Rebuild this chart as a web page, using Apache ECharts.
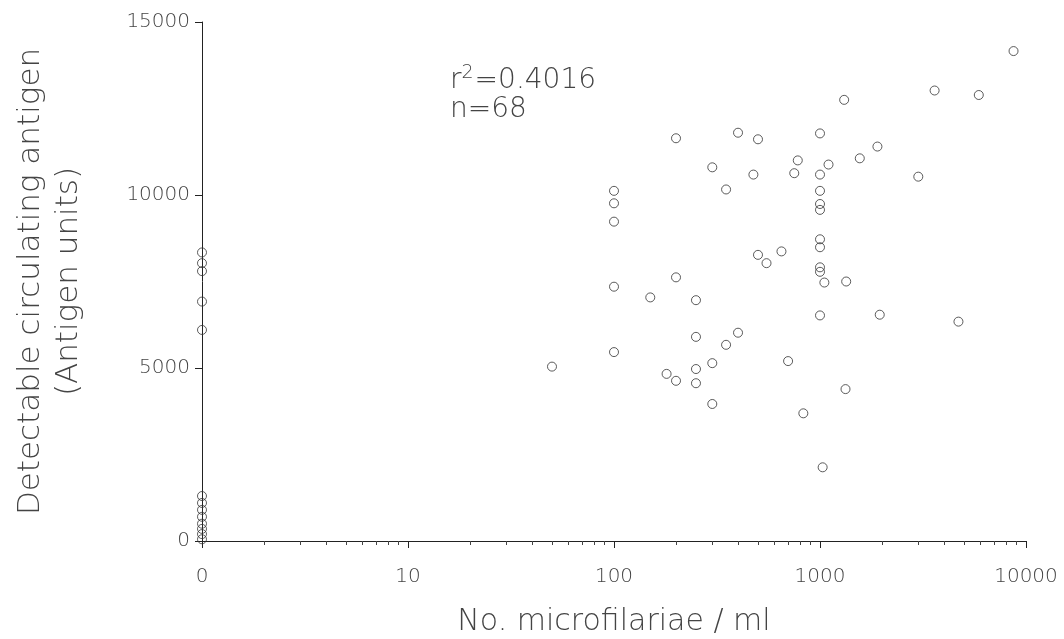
<!DOCTYPE html>
<html>
<head>
<meta charset="utf-8">
<title>Antigen vs microfilariae</title>
<script src="https://cdn.jsdelivr.net/npm/echarts@6/dist/echarts.min.js"></script>
<style>
  html, body { margin: 0; padding: 0; background: #fff; }
  #chart { width: 1064px; height: 639px; }
</style>
</head>
<body>
<div id="chart"></div>
<script>
// microfilariae per ml (0 = amicrofilaraemic, drawn at the origin)
const mfCounts = [
  0, 0, 0, 0, 0,
  0, 0, 0, 0, 0, 0, 0, 0,
  50,
  100, 100, 100, 100, 100,
  150,
  180, 200, 200, 200,
  250, 250, 250, 250,
  300, 300, 300,
  350, 350,
  400, 400,
  475, 500, 500, 550,
  650, 700, 750, 780, 830,
  1000, 1000, 1000, 1000, 1000, 1000, 1000, 1000, 1000, 1000,
  1030, 1050, 1100,
  1310, 1330, 1340,
  1560, 1900, 1950,
  3000, 3600, 4700, 5900, 8700
];
// detectable circulating antigen (antigen units)
const antigen = [
  8340, 8030, 7800, 6920, 6100,
  1300, 1100, 900, 700, 500, 350, 200, 50,
  5040,
  10120, 9760, 9230, 7350, 5460,
  7040,
  4830, 4630, 11640, 7620,
  6960, 5900, 4970, 4560,
  10800, 5140, 3960,
  10160, 5670,
  11800, 6020,
  10590, 11610, 8270, 8030,
  8370, 5200, 10630, 11000, 3690,
  11780, 10590, 10120, 9740, 9570, 8720, 8490, 7910, 7780, 6520,
  2130, 7470, 10880,
  12750, 4390, 7500,
  11060, 11400, 6540,
  10530, 13020, 6340, 12890, 14160
];
const rSquared = '0.4016';
const nLabel = 'n=68';

const font = 'DejaVu Sans';
const textColor = '#444';

// log axis can't show 0, so zero counts sit on the axis origin (labelled "0")
const points = mfCounts.map((x, i) => [x === 0 ? 1 : x, antigen[i]]);

const chart = echarts.init(document.getElementById('chart'));
chart.setOption({
  animation: false,
  backgroundColor: '#fff',
  title: [
    {
      text: '{a|r}{s|2}{a|=' + rSquared + '}',
      left: 445, top: 59,
      textStyle: {
        rich: {
          a: { fontFamily: font, fontSize: 28, fontWeight: 300, color: textColor },
          s: { fontFamily: font, fontSize: 19, fontWeight: 300, color: textColor, padding: [0, 1, 15, 0] }
        }
      }
    },
    {
      text: nLabel,
      left: 445, top: 91,
      textStyle: { fontFamily: font, fontSize: 28, fontWeight: 300, color: textColor }
    }
  ],
  grid: { left: 202, right: 38, top: 22, bottom: 98, containLabel: false, outerBoundsMode: 'none' },
  xAxis: {
    type: 'log',
    logBase: 10,
    min: 1,
    max: 10000,
    name: 'No. microfilariae / ml',
    nameLocation: 'middle',
    nameGap: 66,
    nameTextStyle: { fontFamily: font, fontSize: 30, fontWeight: 300, color: textColor },
    axisLine: { lineStyle: { color: '#222', width: 1 } },
    axisTick: { show: true, length: 7, lineStyle: { color: '#222' } },
    minorTick: { show: true, splitNumber: 9, length: 4, lineStyle: { color: '#444' } },
    splitLine: { show: false },
    axisLabel: {
      margin: 26,
      fontFamily: font, fontSize: 20, fontWeight: 300, color: textColor,
      formatter: v => (v === 1 ? '0' : String(v))
    }
  },
  yAxis: {
    type: 'value',
    min: 0,
    max: 15000,
    interval: 5000,
    name: 'Detectable circulating antigen\n(Antigen units)',
    nameLocation: 'middle',
    nameGap: 114,
    nameRotate: 90,
    nameTextStyle: { fontFamily: font, fontSize: 31, fontWeight: 300, color: textColor, lineHeight: 38 },
    axisLine: { show: true, lineStyle: { color: '#222', width: 1 } },
    axisTick: { show: true, length: 7, lineStyle: { color: '#222' } },
    splitLine: { show: false },
    axisLabel: {
      margin: 12, fontFamily: font, fontSize: 20, fontWeight: 300, color: textColor,
      formatter: v => String(v)
    }
  },
  series: [{
    type: 'scatter',
    data: points,
    symbol: 'circle',
    symbolSize: 9,
    clip: false,
    itemStyle: { color: 'rgba(255,255,255,0)', borderColor: '#333', borderWidth: 1 }
  }]
});
</script>
</body>
</html>
